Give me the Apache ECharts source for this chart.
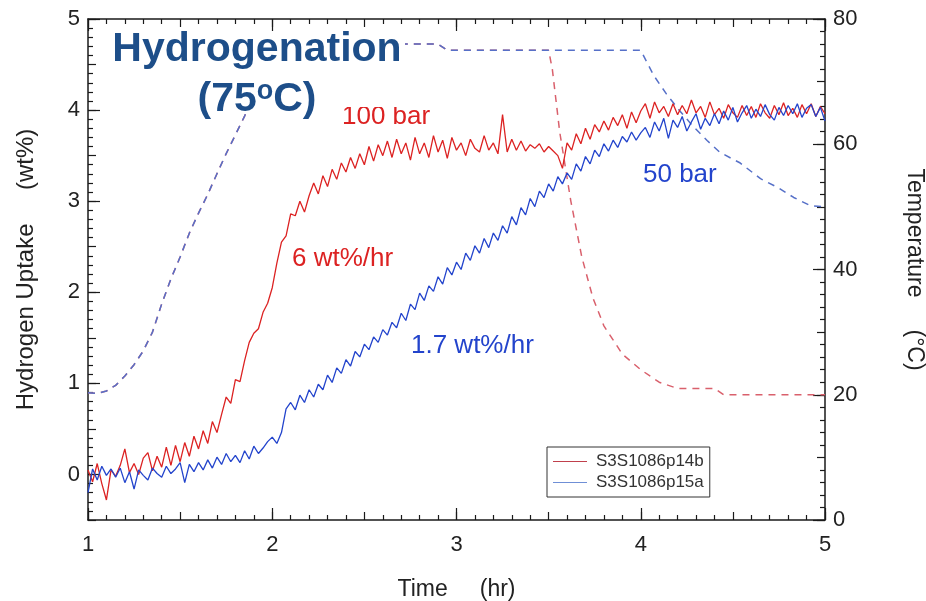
<!DOCTYPE html>
<html>
<head>
<meta charset="utf-8">
<title>Hydrogenation (75°C)</title>
<script src="https://cdn.jsdelivr.net/npm/echarts@6/dist/echarts.min.js"></script>
<style>
  html, body { margin: 0; padding: 0; background: #fff; }
  #chart { width: 926px; height: 601px; }
</style>
</head>
<body>
<div id="chart"></div>
<script>
// uptake samples every 0.025 hr from 1.0 to 5.0 hr
const T_START = 1.0;
const T_STEP = 0.025;

// S3S1086p14b, 100 bar (wt%)
const redUptake = [
  0.05, -0.08, 0.12, -0.10, -0.28, 0.05, -0.02, 0.10,
  0.28, 0.02, 0.12, 0.00, 0.18, 0.24, 0.04, 0.20,
  0.08, 0.30, 0.10, 0.32, 0.14, 0.35, 0.20, 0.42,
  0.28, 0.48, 0.34, 0.58, 0.46, 0.66, 0.85, 0.78,
  1.04, 1.02, 1.25, 1.45, 1.55, 1.60, 1.78, 1.88,
  2.05, 2.32, 2.55, 2.62, 2.86, 2.84, 3.00, 2.88,
  3.06, 3.20, 3.08, 3.28, 3.16, 3.35, 3.24, 3.42,
  3.32, 3.48, 3.36, 3.52, 3.40, 3.60, 3.44, 3.62,
  3.50, 3.66, 3.48, 3.68, 3.52, 3.64, 3.45, 3.70,
  3.52, 3.64, 3.48, 3.72, 3.54, 3.67, 3.47, 3.70,
  3.56, 3.64, 3.50, 3.68, 3.58, 3.54, 3.72, 3.56,
  3.64, 3.52, 3.95, 3.54, 3.68, 3.56, 3.66, 3.55,
  3.62, 3.58, 3.63, 3.54, 3.60, 3.55, 3.50, 3.36,
  3.64, 3.56, 3.74, 3.63, 3.80, 3.68, 3.84, 3.76,
  3.88, 3.78, 3.92, 3.83, 3.95, 3.80, 3.98, 3.86,
  3.99, 4.07, 3.91, 4.09, 3.97, 4.04, 3.93, 4.07,
  3.95, 4.05, 3.96, 4.11, 3.97, 4.04, 3.92, 4.09,
  3.95, 4.02, 3.91, 4.06, 3.97, 3.92, 4.05, 3.94,
  4.04, 3.92, 4.07, 3.97, 3.91, 4.05, 3.95, 4.08,
  3.94, 4.02, 3.92, 4.06, 3.96, 4.07, 3.93, 4.04,
  3.96
];

// S3S1086p15a, 50 bar (wt%)
const blueUptake = [
  -0.20, 0.06, -0.06, 0.09, -0.01, 0.06, -0.03, 0.07,
  -0.09, 0.03, -0.16, 0.05, -0.01, -0.06, 0.07, 0.01,
  -0.03, 0.09, 0.01, 0.06, 0.13, -0.09, 0.11, 0.03,
  0.13, 0.05, 0.16, 0.07, 0.19, 0.11, 0.23, 0.14,
  0.21, 0.13, 0.26, 0.17, 0.31, 0.23, 0.29, 0.36,
  0.41, 0.34, 0.46, 0.72, 0.79, 0.71, 0.87, 0.79,
  0.93, 0.85, 0.99, 0.93, 1.09, 1.01, 1.17, 1.11,
  1.26, 1.19, 1.35, 1.29, 1.43, 1.37, 1.51, 1.45,
  1.59, 1.53, 1.67, 1.61, 1.77, 1.69, 1.87, 1.81,
  1.99, 1.91, 2.07, 2.01, 2.17, 2.09, 2.27, 2.19,
  2.33, 2.25, 2.43, 2.35, 2.51, 2.43, 2.59, 2.49,
  2.65, 2.57, 2.73, 2.65, 2.83, 2.74, 2.93, 2.85,
  3.03, 2.94, 3.11, 3.04, 3.19, 3.11, 3.27, 3.19,
  3.31, 3.24, 3.41, 3.33, 3.49, 3.41, 3.56, 3.49,
  3.63, 3.55, 3.67, 3.59, 3.71, 3.65, 3.76, 3.67,
  3.75, 3.81, 3.70, 3.87, 3.77, 3.91, 3.69, 3.89,
  3.81, 3.93, 3.77, 3.87, 3.96, 3.79, 3.91, 3.83,
  3.96, 3.85, 3.99, 3.89, 4.03, 3.87, 3.97, 4.05,
  3.91, 4.01, 3.93, 4.06, 3.95, 3.89, 4.03, 3.94,
  4.05, 3.96, 4.07, 3.92, 4.02, 4.06, 3.93, 4.03,
  3.88
];

// temperature traces (°C), dashed, right axis
const redTempTime = [1.0, 1.05, 1.1, 1.15, 1.2, 1.25, 1.3, 1.35, 1.4, 1.45,
  1.5, 1.55, 1.6, 1.65, 1.7, 1.75, 1.8, 1.85, 1.9, 1.95,
  2.0, 2.1, 2.9, 2.95, 3.5, 3.52, 3.56, 3.62, 3.68, 3.74,
  3.8, 3.9, 4.0, 4.1, 4.2, 4.4, 4.45, 5.0];
const redTemp = [20.3, 20.2, 20.6, 21.5, 23, 24.8, 27, 30, 34.5, 38.5,
  42, 45.8, 49, 52, 55.3, 58.5, 61.5, 64.5, 68, 72,
  75.5, 76, 76, 75, 75, 72, 62, 51, 42, 35.5,
  31, 26.5, 24, 22, 21, 21, 20, 20];

const blueTempTime = [1.0, 1.05, 1.1, 1.15, 1.2, 1.25, 1.3, 1.35, 1.4, 1.45,
  1.5, 1.55, 1.6, 1.65, 1.7, 1.75, 1.8, 1.85, 1.9, 1.95,
  2.0, 2.1, 2.9, 2.95, 4.0, 4.07, 4.14, 4.21, 4.28, 4.36,
  4.43, 4.54, 4.65, 4.75, 4.83, 4.92, 5.0];
const blueTemp = [20.3, 20.2, 20.6, 21.5, 23, 24.8, 27, 30, 34.5, 38.5,
  42, 45.8, 49, 52, 55.3, 58.5, 61.5, 64.5, 68, 72,
  75.5, 76, 76, 75, 75, 71, 68, 65.4, 63, 60.6,
  58.7, 57, 54.5, 53, 51.5, 50.2, 50];

const seriesNames = ['S3S1086p14b', 'S3S1086p15a'];

const RED = '#dc2222';
const BLUE = '#2344cc';
const AXIS = '#1a1a1a';
const FONT = 'Liberation Sans';

const withTime = (arr) => arr.map((v, i) => [+(T_START + i * T_STEP).toFixed(3), v]);
const pairs = (ts, vs) => ts.map((t, i) => [t, vs[i]]);
const intOnly = (v) => (Math.abs(v - Math.round(v)) < 1e-9 ? String(Math.round(v)) : '');

const chart = echarts.init(document.getElementById('chart'), null, { renderer: 'canvas' });

// main axis: medium ticks + minor ticks; overlay axis: long ticks
const tickLine = { color: AXIS, width: 1.2 };
const nameStyle = { fontSize: 23, color: '#222', fontFamily: FONT };
const labelStyle = { fontSize: 22, color: '#222', fontFamily: FONT };
const mainAxis = (extra) => Object.assign({
  type: 'value',
  axisLine: { show: true, onZero: false, lineStyle: { color: AXIS, width: 1.5 } },
  axisTick: { show: true, inside: true, length: 8, lineStyle: tickLine },
  minorTick: { show: true, splitNumber: 5, length: 5, lineStyle: tickLine },
  splitLine: { show: false },
  minorSplitLine: { show: false },
}, extra);
const longTickAxis = (extra) => Object.assign({
  type: 'value',
  axisLine: { show: false, onZero: false },
  axisTick: { show: true, inside: true, length: 12, lineStyle: tickLine },
  axisLabel: { show: false },
  splitLine: { show: false },
}, extra);

// legend sample: thin horizontal line across the icon box
const LEGEND_LINE = 'path://M0,0 L0,0 M0,7.4 L34,7.4 L34,8.6 L0,8.6 Z M34,16 L34,16';

const option = {
  animation: false,
  backgroundColor: '#fff',
  textStyle: { fontFamily: FONT },
  grid: { left: 88, right: 101, top: 19, bottom: 81, containLabel: false, outerBoundsMode: 'none' },
  legend: {
    data: [
      { name: seriesNames[0], icon: LEGEND_LINE, itemStyle: { color: '#c0404c' } },
      { name: seriesNames[1], icon: LEGEND_LINE, itemStyle: { color: '#6f8fd6' } },
    ],
    orient: 'vertical',
    left: 547,
    top: 447,
    padding: [6, 6, 6, 6],
    itemGap: 4,
    itemWidth: 34,
    itemHeight: 16,
    borderColor: '#333',
    borderWidth: 1,
    textStyle: { fontFamily: FONT, fontSize: 17, color: '#333', padding: [0, 0, 0, 4] },
  },
  xAxis: [
    mainAxis({
      position: 'bottom', min: 1, max: 5, interval: 0.5,
      name: 'Time     (hr)', nameLocation: 'middle', nameGap: 58,
      nameTextStyle: nameStyle,
      axisLabel: Object.assign({ formatter: intOnly, margin: 14 }, labelStyle),
    }),
    longTickAxis({ position: 'bottom', min: 1, max: 5, interval: 1 }),
    mainAxis({ position: 'top', min: 1, max: 5, interval: 0.5, axisLabel: { show: false } }),
    longTickAxis({ position: 'top', min: 1, max: 5, interval: 1 }),
  ],
  yAxis: [
    mainAxis({
      position: 'left', min: -0.5, max: 5, interval: 0.5,
      name: 'Hydrogen Uptake     (wt%)', nameLocation: 'middle', nameGap: 50,
      nameTextStyle: Object.assign({}, nameStyle, { fontSize: 24 }),
      axisLabel: Object.assign({ formatter: intOnly, margin: 8 }, labelStyle),
    }),
    longTickAxis({ position: 'left', min: -0.5, max: 5, axisTick: { show: true, inside: true, length: 12, lineStyle: tickLine, customValues: [0, 1, 2, 3, 4, 5] } }),
    mainAxis({
      position: 'right', min: 0, max: 80, interval: 10,
      name: 'Temperature     (°C)', nameLocation: 'middle', nameGap: 78, nameRotate: -90,
      nameTextStyle: nameStyle,
      axisLabel: Object.assign({ formatter: (v) => (v % 20 === 0 ? String(v) : ''), margin: 8 }, labelStyle),
    }),
    longTickAxis({ position: 'right', min: 0, max: 80, interval: 20 }),
  ],
  series: [
    {
      name: 'temp-red', type: 'line', xAxisIndex: 0, yAxisIndex: 2,
      data: pairs(redTempTime, redTemp), symbol: 'none', silent: true,
      lineStyle: { color: '#d9606c', width: 1.5, type: [7, 6] }, z: 3,
    },
    {
      name: 'temp-blue', type: 'line', xAxisIndex: 0, yAxisIndex: 2,
      data: pairs(blueTempTime, blueTemp), symbol: 'none', silent: true,
      lineStyle: { color: '#5670c8', width: 1.5, type: [7, 6] }, z: 3,
    },
    {
      name: seriesNames[0], type: 'line', xAxisIndex: 0, yAxisIndex: 0,
      data: withTime(redUptake), symbol: 'none',
      itemStyle: { color: RED },
      lineStyle: { color: RED, width: 1.3 }, z: 4,
    },
    {
      name: seriesNames[1], type: 'line', xAxisIndex: 0, yAxisIndex: 0,
      data: withTime(blueUptake), symbol: 'none',
      itemStyle: { color: BLUE },
      lineStyle: { color: BLUE, width: 1.3 }, z: 5,
    },
  ],
  graphic: [
    // annotations
    { type: 'text', left: 342, top: 104, z: 20, style: { text: '100 bar', fill: RED, font: '26px "Liberation Sans"' } },
    { type: 'text', left: 292, top: 246, z: 20, style: { text: '6 wt%/hr', fill: RED, font: '26px "Liberation Sans"' } },
    { type: 'text', left: 411, top: 333, z: 20, style: { text: '1.7 wt%/hr', fill: BLUE, font: '26px "Liberation Sans"' } },
    { type: 'text', left: 643, top: 162, z: 20, style: { text: '50 bar', fill: BLUE, font: '26px "Liberation Sans"' } },
    // title box covers lines below it
    { type: 'rect', shape: { x: 98, y: 33, width: 307, height: 74 }, z: 30, style: { fill: '#fff' } },
    { type: 'rect', shape: { x: 405, y: 60, width: 35, height: 47 }, z: 30, style: { fill: '#fff' } },
    {
      type: 'text', x: 257, y: 50, z: 31,
      style: { text: 'Hydrogenation', fill: '#1d4e89', font: 'bold 41px "Liberation Sans"', align: 'center', verticalAlign: 'middle' },
    },
    {
      type: 'text', x: 257, y: 100, z: 31,
      style: {
        text: '{a|(75}{s|o}{a|C)}',
        align: 'center', verticalAlign: 'middle',
        rich: {
          a: { fill: '#1d4e89', fontSize: 41, fontWeight: 'bold', fontFamily: FONT },
          s: { fill: '#1d4e89', fontSize: 27, fontWeight: 'bold', fontFamily: FONT, verticalAlign: 'top', padding: [0, 0, 16, 0] },
        },
      },
    },
  ],
};

chart.setOption(option);
</script>
</body>
</html>
